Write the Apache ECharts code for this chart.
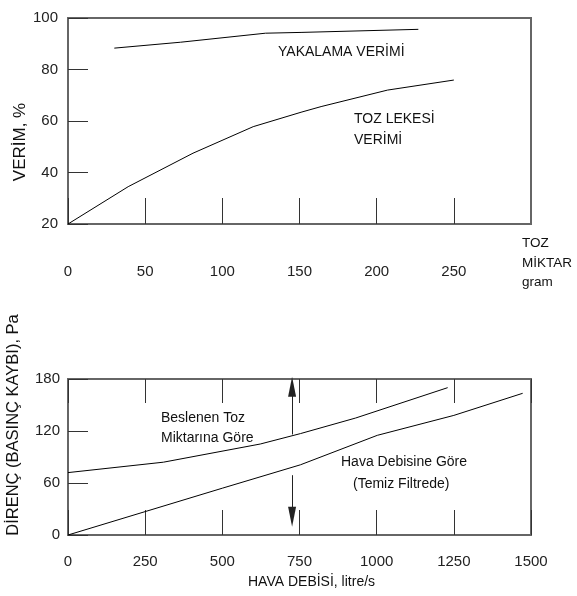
<!DOCTYPE html>
<html>
<head>
<meta charset="utf-8">
<script src="https://cdn.jsdelivr.net/npm/echarts@6/dist/echarts.min.js"></script>
<style>
html, body { margin: 0; padding: 0; background: #fff; }
#main { width: 577px; height: 596px; }
</style>
</head>
<body>
<div id="main"></div>
<script>
// ust grafik: toz miktari (gram) - verim (%)
var yakalamaVerimi = [[30, 88.3], [73, 90.6], [128, 94.1], [151, 94.4], [227, 95.6]];
var tozLekesiVerimi = [[0, 20], [39, 34.5], [81, 47.5], [120, 57.8], [151, 63.4], [164, 65.6], [207, 72], [250, 75.9]];

// alt grafik: hava debisi (litre/s) - direnc (Pa)
var beslenenToz = [[0, 72], [309, 84], [623, 105], [753, 117], [932, 135], [1230, 170]];
var havaDebisi = [[0, 0], [250, 27], [500, 54], [753, 81], [1002, 115], [1250, 138], [1473, 163.5]];

// oklar (x, baslangic, uc)
var okYukari = [726, 116, 171];
var okAsagi = [726, 69, 21];

var sans = "'Liberation Sans', Arial, sans-serif";

var chart = echarts.init(document.getElementById('main'));

var tickStyle = { color: '#333', width: 1 };
var labelStyle = {
    color: '#222', fontFamily: sans, fontSize: 15,
    formatter: function (v) { return String(v); }
};

function lineSerie(data, x, y) {
    return {
        type: 'line',
        xAxisIndex: x,
        yAxisIndex: y,
        data: data,
        showSymbol: false,
        symbol: 'none',
        lineStyle: { color: '#000', width: 1 },
        silent: true
    };
}

function textEl(txt, x, y, font, opts) {
    opts = opts || {};
    return {
        type: 'text',
        x: x,
        y: y,
        rotation: opts.rotation || 0,
        style: {
            text: txt,
            font: font,
            fill: '#111',
            align: opts.align || 'left',
            verticalAlign: 'middle'
        }
    };
}

var hava = lineSerie(havaDebisi, 1, 1);
hava.markLine = {
    silent: true,
    symbol: ['none', 'triangle'],
    symbolSize: [8, 20],
    lineStyle: { color: '#222', width: 1, type: 'solid' },
    itemStyle: { color: '#000' },
    label: { show: false },
    data: [
        [{ coord: [okYukari[0], okYukari[1]] }, { coord: [okYukari[0], okYukari[2]] }],
        [{ coord: [okAsagi[0], okAsagi[1]] }, { coord: [okAsagi[0], okAsagi[2]] }]
    ]
};

var option = {
    animation: false,
    grid: [
        { left: 68, top: 18, width: 463, height: 206, show: true, borderColor: '#666', borderWidth: 2 },
        { left: 68, top: 379, width: 463, height: 156, show: true, borderColor: '#666', borderWidth: 2 }
    ],
    xAxis: [
        {
            type: 'value', gridIndex: 0, min: 0, max: 300, interval: 50,
            axisLine: { show: false },
            axisTick: { inside: true, length: 26, lineStyle: tickStyle },
            axisLabel: Object.assign({ margin: 40, showMaxLabel: false }, labelStyle),
            splitLine: { show: false }
        },
        {
            type: 'value', gridIndex: 1, min: 0, max: 1500, interval: 250,
            axisLine: { show: false },
            axisTick: { inside: true, length: 25, lineStyle: tickStyle },
            axisLabel: Object.assign({ margin: 19 }, labelStyle),
            splitLine: { show: false }
        },
        {
            type: 'value', gridIndex: 1, position: 'top', min: 0, max: 1500, interval: 250,
            axisLine: { show: false },
            axisTick: { inside: true, length: 24, lineStyle: tickStyle },
            axisLabel: { show: false },
            splitLine: { show: false }
        }
    ],
    yAxis: [
        {
            type: 'value', gridIndex: 0, min: 20, max: 100, interval: 20,
            axisLine: { show: false },
            axisTick: { show: true, inside: true, length: 20, lineStyle: tickStyle },
            axisLabel: Object.assign({ margin: 10 }, labelStyle),
            splitLine: { show: false }
        },
        {
            type: 'value', gridIndex: 1, min: 0, max: 180, interval: 60,
            axisLine: { show: false },
            axisTick: { show: true, inside: true, length: 20, lineStyle: tickStyle },
            axisLabel: Object.assign({ margin: 8 }, labelStyle),
            splitLine: { show: false }
        }
    ],
    series: [
        lineSerie(yakalamaVerimi, 0, 0),
        lineSerie(tozLekesiVerimi, 0, 0),
        lineSerie(beslenenToz, 1, 1),
        hava
    ],
    graphic: [
        textEl('YAKALAMA VERİMİ', 278, 52, '14px ' + sans),
        textEl('TOZ LEKESİ', 354, 119, '14px ' + sans),
        textEl('VERİMİ', 354, 140, '14px ' + sans),
        textEl('TOZ', 522, 243, '13.5px ' + sans),
        textEl('MİKTAR', 522, 263, '13.5px ' + sans),
        textEl('gram', 522, 282, '13.5px ' + sans),
        textEl('VERİM, %', 20, 142, '17px ' + sans, { rotation: Math.PI / 2, align: 'center' }),
        textEl('Beslenen Toz', 161, 418, '14px ' + sans),
        textEl('Miktarına Göre', 161, 438, '14px ' + sans),
        textEl('Hava Debisine Göre', 341, 462, '14px ' + sans),
        textEl('(Temiz Filtrede)', 353, 484, '14px ' + sans),
        textEl('HAVA DEBİSİ, litre/s', 248, 582, '14px ' + sans),
        textEl('DİRENÇ (BASINÇ KAYBI), Pa', 13, 425, '16.5px ' + sans, { rotation: Math.PI / 2, align: 'center' })
    ]
};

chart.setOption(option);
</script>
</body>
</html>
